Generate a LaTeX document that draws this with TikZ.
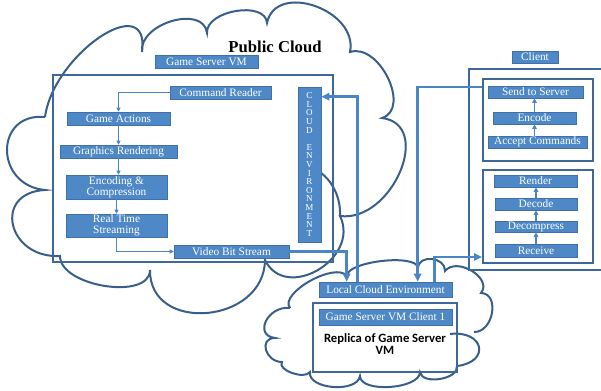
\documentclass[tikz,border=0pt]{standalone}
\usepackage{fontspec}
\setmainfont{Liberation Serif}
\newfontfamily\replfont{Carlito}
\usetikzlibrary{arrows.meta,calc}
\definecolor{bxfill}{RGB}{78,136,199}
\definecolor{bxline}{RGB}{64,112,168}
\definecolor{cloudc}{RGB}{56,94,140}
\definecolor{framec}{RGB}{62,104,152}
\definecolor{connc}{RGB}{74,134,198}
\newcommand\cloudbump[3]{.. controls ($0.3333*#1+1.3333*#2-0.6667*#3$) and ($0.3333*#3+1.3333*#2-0.6667*#1$) .. #3}
\begin{document}
\begin{tikzpicture}[x=0.75pt,y=-0.75pt,
  wh/.style 2 args={minimum width=#1*0.75pt, minimum height=#2*0.75pt},
  bx/.style={draw=bxline, line width=0.5pt, fill=bxfill, text=white, inner sep=0pt,
    font=\fontsize{8.5}{8.3}\selectfont, align=center},
  frame/.style={draw=framec, line width=1.5pt, inner sep=0pt},
  cloudl/.style={draw=cloudc, line width=1.5pt},
  conn/.style={draw=connc, line width=1.9pt, -{Triangle[length=6pt,width=5.5pt]}},
  ta/.style={draw=connc, line width=0.7pt, -{Triangle[length=3pt,width=3pt]}},
  tb/.style={draw=connc, line width=1pt, -{Triangle[length=3.5pt,width=3.5pt]}}]
\useasboundingbox (0,0) rectangle (601,391);
% public cloud outline
\draw[cloudl] (45,117) \cloudbump{(45,117)}{(100,37)}{(142,52)}
  \cloudbump{(142,52)}{(172,21)}{(207,33)}
  \cloudbump{(207,33)}{(236,11)}{(267,23)}
  \cloudbump{(267,23)}{(315,6)}{(350,52)}
  \cloudbump{(350,52)}{(388,78)}{(382,118)}
  \cloudbump{(382,118)}{(400,172)}{(340,216)}
  \cloudbump{(340,216)}{(318,270)}{(265,260)}
  \cloudbump{(265,260)}{(207,313)}{(150,270)}
  \cloudbump{(150,270)}{(105,286)}{(60,256)}
  \cloudbump{(60,256)}{(13,225)}{(45,190)}
  \cloudbump{(45,190)}{(7,150)}{(45,117)};
\draw[cloudl] (340,216) .. controls (341,195) and (330,176) .. (313,168);
% local cloud outline
\draw[cloudl] (290,308) \cloudbump{(290,308)}{(310,281)}{(347,276)}
  \cloudbump{(347,276)}{(382,261)}{(418,268)}
  \cloudbump{(418,268)}{(432,259)}{(445,271)}
  \cloudbump{(445,271)}{(472,271)}{(481,293)}
  \cloudbump{(481,293)}{(492,313)}{(474,332)};
\draw[cloudl] (450,334) \cloudbump{(450,334)}{(479,347)}{(457,366)}
  \cloudbump{(457,366)}{(440,379)}{(420,372)}
  \cloudbump{(420,372)}{(390,387)}{(360,376)}
  \cloudbump{(360,376)}{(333,387)}{(310,372)}
  \cloudbump{(310,372)}{(292,373)}{(282,362)}
  \cloudbump{(282,362)}{(266,350)}{(275,338)}
  \cloudbump{(275,338)}{(266,321)}{(290,308)};
% frames
\node[frame, wh={280}{187}] (vm) at (193,168.5) {};
\node[frame, wh={110}{82}] (cup) at (538,120) {};
\node[frame, wh={110}{93}] (clow) at (538,216.5) {};
\node[frame, wh={144}{69}] (linner) at (385,337.5) {};
\draw[draw=framec, line width=1.5pt] (606,69) -- (469,69) -- (469,270) -- (606,270);
% texts
\node[font=\bfseries\fontsize{12.5}{14}\selectfont] (pc) at (275,47) {Public Cloud};
\node[font=\replfont\bfseries\fontsize{9.5}{9}\selectfont, align=center] (rep) at (385,344) {Replica of Game Server\\VM};
% boxes
\node[bx, wh={103}{13}] (gsvm) at (206.5,61.5) {Game Server VM};
\node[bx, wh={101}{13}] (cr) at (220.5,92.5) {Command Reader};
\node[bx, wh={103}{13}] (ga) at (118.5,118.5) {Game Actions};
\node[bx, wh={117}{13}] (gr) at (118.5,151.5) {Graphics Rendering};
\node[bx, wh={101}{24}] (ec) at (116.5,187) {Encoding \&\\Compression};
\node[bx, wh={101}{23}] (rt) at (116.5,225.5) {Real Time\\Streaming};
\node[bx, wh={115}{13}] (vbs) at (231.5,251.5) {Video Bit Stream};
\node[bx, wh={23}{155}, font=\fontsize{6.8}{6.45}\selectfont] (ce) at (309.5,164.5)
  {C\\L\\O\\U\\D\\[6.45pt]E\\N\\V\\I\\R\\O\\N\\M\\E\\N\\T};
\node[bx, wh={46}{12}] (client) at (535,57) {Client};
\node[bx, wh={95}{12}] (send) at (535.5,92) {Send to Server};
\node[bx, wh={83}{12}] (encode) at (534.5,118) {Encode};
\node[bx, wh={99}{12}] (accept) at (537.5,142) {Accept Commands};
\node[bx, wh={83}{12}] (render) at (535.5,181) {Render};
\node[bx, wh={82}{12}] (decode) at (536,204) {Decode};
\node[bx, wh={82}{11}] (decomp) at (536,226.5) {Decompress};
\node[bx, wh={82}{13}] (receive) at (536,250.5) {Receive};
\node[bx, wh={133}{15}] (lce) at (385.5,289.5) {Local Cloud Environment};
\node[bx, wh={133}{16}] (gsc) at (385.5,317) {Game Server VM Client 1};
% inner arrows (server)
\draw[ta] (cr.west) -| (ga.north);
\draw[ta] (ga.south) -- (gr.north);
\draw[ta] (gr.south |- gr.south) -- (gr.south |- ec.north);
\draw[ta] (ec.south) -- (rt.north);
\draw[ta] (rt.south) |- (vbs.west);
% inner arrows (client)
\draw[tb] (encode.south |- accept.north) -- (encode.south);
\draw[tb] (encode.north) -- (encode.north |- send.south);
\draw[tb] (receive.north) -- (decomp.south);
\draw[tb] (decomp.north) -- (decode.south);
\draw[tb] (decode.north) -- (decode.north |- render.south);
% main connectors
\draw[conn] (vbs.east) -| ($(lce.north west)+(28,0)$);
\draw[conn] ($(lce.north west)+(39,0)$) |- ($(ce.north east)+(0,10)$);
\draw[conn] ($(cup.north west)+(0,9)$) -| ($(lce.north west)+(99,0)$);
\draw[conn] ($(lce.north west)+(116,0)$) |- ($(clow.south west)+(0,-7)$);
\end{tikzpicture}
\end{document}
